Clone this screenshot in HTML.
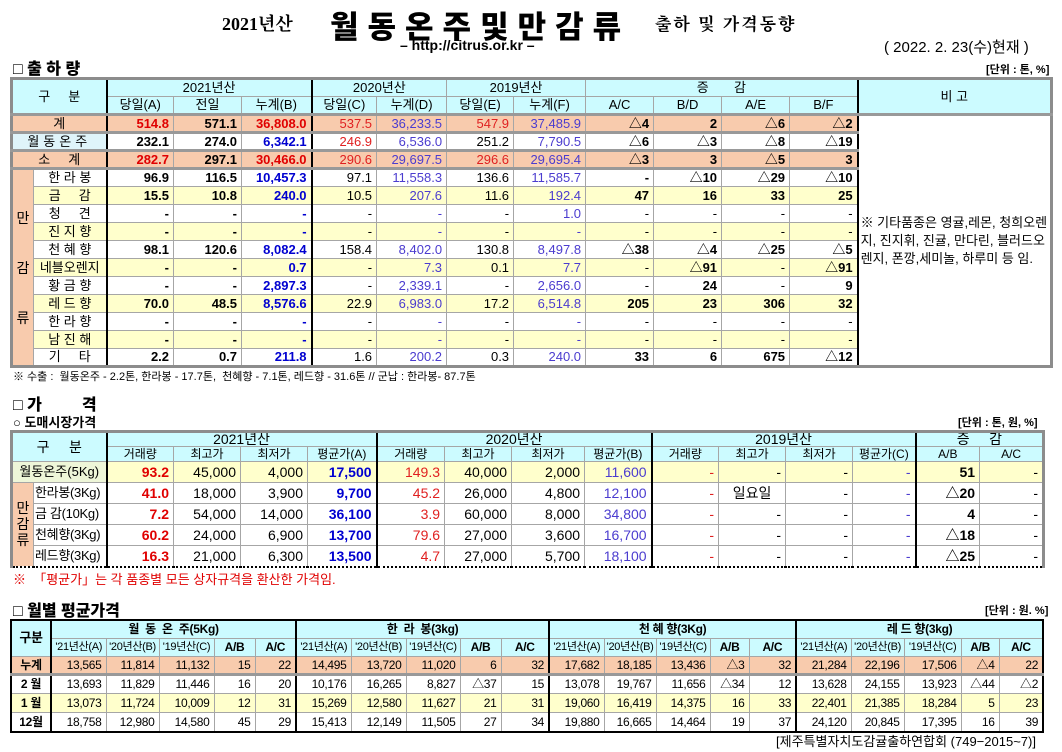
<!DOCTYPE html>
<html><head><meta charset="utf-8"><style>
*{margin:0;padding:0;box-sizing:border-box}
body{width:1062px;height:752px;background:#fff;position:relative;overflow:hidden;font-family:"Liberation Sans","Noto Sans CJK KR",sans-serif;color:#000}
.a{position:absolute;white-space:nowrap}
table{position:absolute;border-collapse:collapse;table-layout:fixed}
td{border:1px solid #a6a6a6;padding:0 4px;white-space:nowrap;overflow:hidden;text-align:right;line-height:14px}
.h td{background:#ccfbff;text-align:center}
.c{text-align:center}
.o td{background:#f8cbad}
.y td.d{background:#ffffcc}
.y2 td{background:#ffffcc}
.lo{background:#f8cbad!important;text-align:center}
.b{font-weight:bold}
.r{color:#e00000;font-weight:bold}
.rr{color:#e02020}
.bl{color:#0000d0;font-weight:bold}
.p{color:#4b3ccf}
.t1 td{font-size:13px;height:18px}
.t2 td{font-size:14px;height:21px}
.t2 .h td{height:15px;line-height:13px}
.t3 td{font-size:12px;height:18px;letter-spacing:-0.3px}
.bk{border-left:2px solid #000!important}
.nm{border-left:1px dashed #666!important}
.hb td{border-top:3px solid #999}
.t2 .nmc{text-align:left;padding:0 1px;font-size:13px;letter-spacing:-0.3px}
</style></head><body>

<div class="a" style="left:222px;top:10px;font:bold 18px 'Liberation Serif','Noto Serif CJK SC',serif">2021년산</div>
<div class="a" style="left:330px;top:2px;font:900 31px 'Liberation Sans','Noto Sans CJK KR',sans-serif;letter-spacing:9px">월동온주및만감류</div>
<div class="a" style="left:655px;top:10px;font:bold 17px 'Liberation Serif','Noto Serif CJK SC',serif;letter-spacing:2px">출하 및 가격동향</div>
<div class="a" style="left:400px;top:37px;font-weight:bold;font-size:14px">– http://citrus.or.kr –</div>
<div class="a" style="left:884px;top:36px;font-size:15px">( 2022. 2. 23(수)현재 )</div>
<div class="a" style="left:13px;top:55px;font-weight:900;font-size:16px">□ 출 하 량</div>
<div class="a" style="left:986px;top:61px;font-weight:bold;font-size:11px">[단위 : 톤, %]</div>

<table class="t1" style="left:10px;top:77px;width:1040px;border:3px solid #8c8c8c">
<colgroup><col style="width:22px"><col style="width:73px"><col style="width:67px"><col style="width:68px"><col style="width:70px"><col style="width:65px"><col style="width:70px"><col style="width:67px"><col style="width:72px"><col style="width:68px"><col style="width:68px"><col style="width:68px"><col style="width:68px"><col style="width:194px"></colgroup>
<tr class="h"><td colspan="2" rowspan="2">구 &nbsp; &nbsp; 분</td><td colspan="3" class="bk">2021년산</td><td colspan="2" class="bk">2020년산</td><td colspan="2">2019년산</td><td colspan="4">증 &nbsp; &nbsp; &nbsp; 감</td><td rowspan="2" class="bk">비 고</td></tr>
<tr class="h"><td class="bk">당일(A)</td><td>전일</td><td>누계(B)</td><td class="bk">당일(C)</td><td>누계(D)</td><td>당일(E)</td><td>누계(F)</td><td>A/C</td><td>B/D</td><td>A/E</td><td>B/F</td></tr>
<tr class="o hb"><td colspan="2" class="c">계</td><td class="r bk">514.8</td><td class="b">571.1</td><td class="r">36,808.0</td><td class="rr bk">537.5</td><td class="p">36,233.5</td><td class="rr">547.9</td><td class="p">37,485.9</td><td class="b">△4</td><td class="b">2</td><td class="b">△6</td><td class="b">△2</td><td rowspan="14" class="bk" style="background:#fff;text-align:left;font-size:13px;line-height:18px;white-space:normal;padding:0 2px;border-top:3px solid #999">※ 기타품종은 영귤,레몬, 청희오렌지, 진지휘, 진귤, 만다린, 블러드오렌지, 폰깡,세미놀, 하루미 등 임.</td></tr>
<tr class="hb"><td colspan="2" class="c" style="background:#dff4fa;letter-spacing:4px">월동온주</td><td class="b bk">232.1</td><td class="b">274.0</td><td class="bl">6,342.1</td><td class="rr bk">246.9</td><td class="p">6,536.0</td><td>251.2</td><td class="p">7,790.5</td><td class="b">△6</td><td class="b">△3</td><td class="b">△8</td><td class="b">△19</td></tr>
<tr class="o hb"><td colspan="2" class="c">소 &nbsp; &nbsp; 계</td><td class="r bk">282.7</td><td class="b">297.1</td><td class="r">30,466.0</td><td class="rr bk">290.6</td><td class="p">29,697.5</td><td class="rr">296.6</td><td class="p">29,695.4</td><td class="b">△3</td><td class="b">3</td><td class="b">△5</td><td class="b">3</td></tr>
<tr class="hb"><td rowspan="11" class="lo" style="line-height:50px;font-size:14px;padding:0;white-space:normal">만<br>감<br>류</td><td class="nm c">한 라 봉</td><td class="b bk">96.9</td><td class="b">116.5</td><td class="bl">10,457.3</td><td class="bk">97.1</td><td class="p">11,558.3</td><td>136.6</td><td class="p">11,585.7</td><td class="b">-</td><td class="b">△10</td><td class="b">△29</td><td class="b">△10</td></tr>
<tr class="y"><td class="nm c d">금 &nbsp; &nbsp; 감</td><td class="b bk d">15.5</td><td class="b d">10.8</td><td class="bl d">240.0</td><td class="bk d">10.5</td><td class="p d">207.6</td><td class="d">11.6</td><td class="p d">192.4</td><td class="b d">47</td><td class="b d">16</td><td class="b d">33</td><td class="b d">25</td></tr>
<tr><td class="nm c">청 &nbsp; &nbsp; 견</td><td class="b bk">-</td><td class="b">-</td><td class="bl">-</td><td class="bk">-</td><td class="p">-</td><td>-</td><td class="p">1.0</td><td>-</td><td>-</td><td>-</td><td>-</td></tr>
<tr class="y"><td class="nm c d">진 지 향</td><td class="b bk d">-</td><td class="b d">-</td><td class="bl d">-</td><td class="bk d">-</td><td class="p d">-</td><td class="d">-</td><td class="p d">-</td><td class="d">-</td><td class="d">-</td><td class="d">-</td><td class="d">-</td></tr>
<tr><td class="nm c">천 혜 향</td><td class="b bk">98.1</td><td class="b">120.6</td><td class="bl">8,082.4</td><td class="bk">158.4</td><td class="p">8,402.0</td><td>130.8</td><td class="p">8,497.8</td><td class="b">△38</td><td class="b">△4</td><td class="b">△25</td><td class="b">△5</td></tr>
<tr class="y"><td class="nm c d" style="padding:0">네블오렌지</td><td class="b bk d">-</td><td class="b d">-</td><td class="bl d">0.7</td><td class="bk d">-</td><td class="p d">7.3</td><td class="d">0.1</td><td class="p d">7.7</td><td class="d">-</td><td class="b d">△91</td><td class="d">-</td><td class="b d">△91</td></tr>
<tr><td class="nm c">황 금 향</td><td class="b bk">-</td><td class="b">-</td><td class="bl">2,897.3</td><td class="bk">-</td><td class="p">2,339.1</td><td>-</td><td class="p">2,656.0</td><td>-</td><td class="b">24</td><td>-</td><td class="b">9</td></tr>
<tr class="y"><td class="nm c d">레 드 향</td><td class="b bk d">70.0</td><td class="b d">48.5</td><td class="bl d">8,576.6</td><td class="bk d">22.9</td><td class="p d">6,983.0</td><td class="d">17.2</td><td class="p d">6,514.8</td><td class="b d">205</td><td class="b d">23</td><td class="b d">306</td><td class="b d">32</td></tr>
<tr><td class="nm c">한 라 향</td><td class="b bk">-</td><td class="b">-</td><td class="bl">-</td><td class="bk">-</td><td class="p">-</td><td>-</td><td class="p">-</td><td>-</td><td>-</td><td>-</td><td>-</td></tr>
<tr class="y"><td class="nm c d">남 진 해</td><td class="b bk d">-</td><td class="b d">-</td><td class="bl d">-</td><td class="bk d">-</td><td class="p d">-</td><td class="d">-</td><td class="p d">-</td><td class="d">-</td><td class="d">-</td><td class="d">-</td><td class="d">-</td></tr>
<tr><td class="nm c">기 &nbsp; &nbsp; 타</td><td class="b bk">2.2</td><td class="b">0.7</td><td class="bl">211.8</td><td class="bk">1.6</td><td class="p">200.2</td><td>0.3</td><td class="p">240.0</td><td class="b">33</td><td class="b">6</td><td class="b">675</td><td class="b">△12</td></tr>
</table>

<div class="a" style="left:13px;top:368px;font-size:11px">※ 수출 : &nbsp;월동온주 - 2.2톤, 한라봉 - 17.7톤, &nbsp;천혜향 - 7.1톤, 레드향 - 31.6톤 // 군납 : 한라봉- 87.7톤</div>
<div class="a" style="left:13px;top:391px;font-weight:900;font-size:16px">□ 가 &nbsp; &nbsp; &nbsp; &nbsp; 격</div>
<div class="a" style="left:13px;top:412px;font-weight:bold;font-size:13px">○ 도매시장가격</div>
<div class="a" style="left:958px;top:414px;font-weight:bold;font-size:11px">[단위 : 톤, 원, %]</div>

<table class="t2" style="left:10px;top:430px;width:1032px;border:3px solid #8c8c8c;border-bottom:2px dotted #000">
<colgroup><col style="width:22px"><col style="width:73px"><col style="width:67px"><col style="width:67px"><col style="width:67px"><col style="width:69px"><col style="width:68px"><col style="width:67px"><col style="width:73px"><col style="width:67px"><col style="width:67px"><col style="width:67px"><col style="width:67px"><col style="width:63px"><col style="width:64px"><col style="width:64px"></colgroup>
<tr class="h"><td colspan="2" rowspan="2">구 &nbsp; &nbsp; 분</td><td colspan="4" class="bk">2021년산</td><td colspan="4" class="bk">2020년산</td><td colspan="4" class="bk">2019년산</td><td colspan="2" class="bk">증 &nbsp; &nbsp; 감</td></tr>
<tr class="h"><td class="bk" style="font-size:12px">거래량</td><td style="font-size:12px">최고가</td><td style="font-size:12px">최저가</td><td style="font-size:12px">평균가(A)</td><td class="bk" style="font-size:12px">거래량</td><td style="font-size:12px">최고가</td><td style="font-size:12px">최저가</td><td style="font-size:12px">평균가(B)</td><td class="bk" style="font-size:12px">거래량</td><td style="font-size:12px">최고가</td><td style="font-size:12px">최저가</td><td style="font-size:12px">평균가(C)</td><td class="bk" style="font-size:12px">A/B</td><td style="font-size:12px">A/C</td></tr>
<tr class="y2"><td colspan="2" class="c" style="background:#eef6d8;padding:0;font-size:13px">월동온주(5Kg)</td><td class="r bk">93.2</td><td>45,000</td><td>4,000</td><td class="bl">17,500</td><td class="rr bk">149.3</td><td>40,000</td><td>2,000</td><td class="p">11,600</td><td class="rr bk">-</td><td>-</td><td>-</td><td class="p">-</td><td class="b bk">51</td><td>-</td></tr>
<tr><td rowspan="4" class="lo" style="line-height:16px;font-size:14px;white-space:normal;padding:0;border-right:1px dashed #666">만<br>감<br>류</td><td class="nmc">한라봉(3Kg)</td><td class="r bk">41.0</td><td>18,000</td><td>3,900</td><td class="bl">9,700</td><td class="rr bk">45.2</td><td>26,000</td><td>4,800</td><td class="p">12,100</td><td class="rr bk">-</td><td class="c">일요일</td><td>-</td><td class="p">-</td><td class="b bk">△20</td><td>-</td></tr>
<tr><td class="nmc">금 감(10Kg)</td><td class="r bk">7.2</td><td>54,000</td><td>14,000</td><td class="bl">36,100</td><td class="rr bk">3.9</td><td>60,000</td><td>8,000</td><td class="p">34,800</td><td class="rr bk">-</td><td>-</td><td>-</td><td class="p">-</td><td class="b bk">4</td><td>-</td></tr>
<tr><td class="nmc">천혜향(3Kg)</td><td class="r bk">60.2</td><td>24,000</td><td>6,900</td><td class="bl">13,700</td><td class="rr bk">79.6</td><td>27,000</td><td>3,600</td><td class="p">16,700</td><td class="rr bk">-</td><td>-</td><td>-</td><td class="p">-</td><td class="b bk">△18</td><td>-</td></tr>
<tr><td class="nmc">레드향(3Kg)</td><td class="r bk">16.3</td><td>21,000</td><td>6,300</td><td class="bl">13,500</td><td class="rr bk">4.7</td><td>27,000</td><td>5,700</td><td class="p">18,100</td><td class="rr bk">-</td><td>-</td><td>-</td><td class="p">-</td><td class="b bk">△25</td><td>-</td></tr>
</table>
<div class="a" style="left:13px;top:569px;font-size:13px;color:#e00000">※ &nbsp;「평균가」는 각 품종별 모든 상자규격을 환산한 가격임.</div>

<div class="a" style="left:13px;top:597px;font-weight:900;font-size:16px">□ 월별 평균가격</div>
<div class="a" style="left:985px;top:602px;font-weight:bold;font-size:11px">[단위 : 원. %]</div>

<table class="t3" style="left:10px;top:619px;width:1032px;border:2px solid #000">
<colgroup><col style="width:40px"><col style="width:55px"><col style="width:53px"><col style="width:55px"><col style="width:41px"><col style="width:41px"><col style="width:55px"><col style="width:55px"><col style="width:54px"><col style="width:41px"><col style="width:48px"><col style="width:55px"><col style="width:52px"><col style="width:54px"><col style="width:39px"><col style="width:47px"><col style="width:55px"><col style="width:53px"><col style="width:57px"><col style="width:38px"><col style="width:44px"></colgroup>
<tr class="h" style="font-weight:bold"><td rowspan="2" class="b" style="font-size:13px">구분</td><td colspan="5" class="bk b" style="height:17px">월 &nbsp;동 &nbsp;온 &nbsp;주(5Kg)</td><td colspan="5" class="bk b">한 &nbsp;라 &nbsp;봉(3kg)</td><td colspan="5" class="bk b">천 혜 향(3Kg)</td><td colspan="5" class="bk b">레 드 향(3kg)</td></tr>
<tr class="h"><td class="bk" style="font-size:11px;padding:0">'21년산(A)</td><td style="font-size:11px;padding:0">'20년산(B)</td><td style="font-size:11px;padding:0">'19년산(C)</td><td class="b">A/B</td><td class="b">A/C</td><td class="bk" style="font-size:11px;padding:0">'21년산(A)</td><td style="font-size:11px;padding:0">'20년산(B)</td><td style="font-size:11px;padding:0">'19년산(C)</td><td class="b">A/B</td><td class="b">A/C</td><td class="bk" style="font-size:11px;padding:0">'21년산(A)</td><td style="font-size:11px;padding:0">'20년산(B)</td><td style="font-size:11px;padding:0">'19년산(C)</td><td class="b">A/B</td><td class="b">A/C</td><td class="bk" style="font-size:11px;padding:0">'21년산(A)</td><td style="font-size:11px;padding:0">'20년산(B)</td><td style="font-size:11px;padding:0">'19년산(C)</td><td class="b">A/B</td><td class="b">A/C</td></tr>
<tr class="o"><td class="c b">누계</td><td class="bk">13,565</td><td>11,814</td><td>11,132</td><td>15</td><td>22</td><td class="bk">14,495</td><td>13,720</td><td>11,020</td><td>6</td><td>32</td><td class="bk">17,682</td><td>18,185</td><td>13,436</td><td>△3</td><td>32</td><td class="bk">21,284</td><td>22,196</td><td>17,506</td><td>△4</td><td>22</td></tr>
<tr class="hb"><td class="c b" style="height:19px">2 월</td><td class="bk">13,693</td><td>11,829</td><td>11,446</td><td>16</td><td>20</td><td class="bk">10,176</td><td>16,265</td><td>8,827</td><td>△37</td><td>15</td><td class="bk">13,078</td><td>19,767</td><td>11,656</td><td>△34</td><td>12</td><td class="bk">13,628</td><td>24,155</td><td>13,923</td><td>△44</td><td>△2</td></tr>
<tr class="y2"><td class="c b" style="height:19px">1 월</td><td class="bk">13,073</td><td>11,724</td><td>10,009</td><td>12</td><td>31</td><td class="bk">15,269</td><td>12,580</td><td>11,627</td><td>21</td><td>31</td><td class="bk">19,060</td><td>16,419</td><td>14,375</td><td>16</td><td>33</td><td class="bk">22,401</td><td>21,385</td><td>18,284</td><td>5</td><td>23</td></tr>
<tr><td class="c b" style="height:20px">12월</td><td class="bk">18,758</td><td>12,980</td><td>14,580</td><td>45</td><td>29</td><td class="bk">15,413</td><td>12,149</td><td>11,505</td><td>27</td><td>34</td><td class="bk">19,880</td><td>16,665</td><td>14,464</td><td>19</td><td>37</td><td class="bk">24,120</td><td>20,845</td><td>17,395</td><td>16</td><td>39</td></tr>
</table>
<div class="a" style="left:776px;top:731px;font-size:13px">[제주특별자치도감귤출하연합회 (749−2015~7)]</div>
</body></html>
